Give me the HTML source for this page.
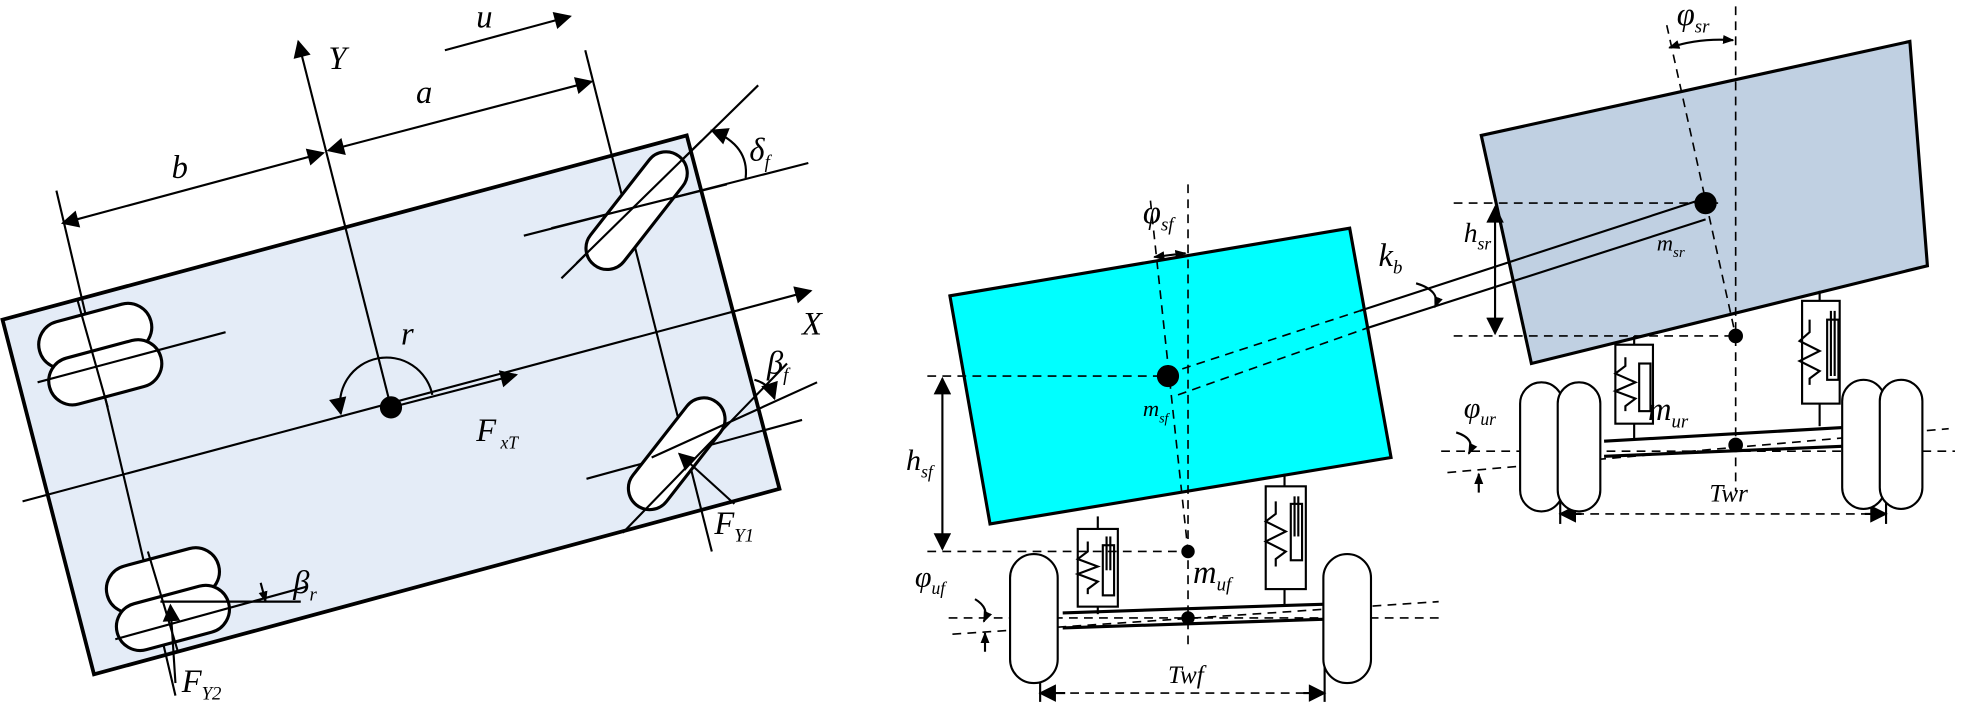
<!DOCTYPE html>
<html><head><meta charset="utf-8"><style>
html,body{margin:0;padding:0;background:#fff;width:1965px;height:712px;overflow:hidden}
svg{display:block}
text{font-family:"Liberation Serif",serif;font-style:italic;fill:#000}
</style></head><body>
<svg width="1965" height="712" viewBox="0 0 1568 568" xmlns="http://www.w3.org/2000/svg">
<defs>
<marker id="a" viewBox="0 0 10 10" refX="9" refY="5" markerWidth="9" markerHeight="9" orient="auto-start-reverse" markerUnits="userSpaceOnUse"><path d="M0,1 L10,5 L0,9z" fill="#000"/></marker>
<marker id="b" viewBox="0 0 10 10" refX="9" refY="5" markerWidth="20" markerHeight="14" orient="auto-start-reverse" markerUnits="userSpaceOnUse"><path d="M0,0 L10,5 L0,10z" fill="#000"/></marker>
</defs>
<g stroke="#000" fill="none" stroke-width="1.7">
<!-- LEFT PANEL -->
<polygon points="2,255 548,108 622,390 75,538" fill="#e4ecf7" stroke-width="3"/>
<line x1="355" y1="40" x2="455" y2="13" marker-end="url(#b)"/>
<line x1="312" y1="325" x2="238" y2="33" marker-end="url(#b)"/>
<line x1="467" y1="40" x2="568" y2="440"/>
<line x1="45" y1="152" x2="140" y2="555"/>
<line x1="262" y1="120" x2="472" y2="65" marker-start="url(#b)" marker-end="url(#b)"/>
<line x1="50" y1="178" x2="258" y2="122" marker-start="url(#b)" marker-end="url(#b)"/>
<line x1="18" y1="400" x2="647" y2="232" marker-end="url(#b)"/>
<line x1="312" y1="325" x2="412" y2="299" marker-end="url(#b)"/>
<path d="M345,315 A36,36 0 1 0 272,330" marker-end="url(#b)"/>
<circle cx="312" cy="325" r="8" fill="#000"/>
<!-- front left wheel -->
<line x1="448" y1="222" x2="605" y2="68"/>
<line x1="418" y1="188" x2="645" y2="130"/>
<rect x="-55" y="-17" width="110" height="34" rx="17" transform="translate(508,168) rotate(-52)" fill="#fff" stroke-width="2.5"/>
<line x1="460" y1="210" x2="560" y2="112"/>
<line x1="440" y1="182" x2="580" y2="147"/>
<path d="M568,104 Q598,116 595,142" marker-start="url(#b)"/>
<!-- front right wheel -->
<line x1="468" y1="382" x2="640" y2="335"/>
<rect x="-52" y="-17" width="104" height="34" rx="17" transform="translate(540,362) rotate(-52)" fill="#fff" stroke-width="2.5"/>
<line x1="497" y1="425" x2="628" y2="290"/>
<line x1="520" y1="365" x2="652" y2="305"/>
<path d="M602,303 Q614,306 618,318" marker-end="url(#b)"/>
<line x1="586" y1="402" x2="542" y2="362" marker-end="url(#b)"/>
<!-- rear left wheels -->
<rect x="-46" y="-19" width="92" height="38" rx="19" transform="translate(76,268) rotate(-15)" fill="#fff" stroke-width="2.5"/>
<rect x="-46" y="-19" width="92" height="38" rx="19" transform="translate(84,297) rotate(-15)" fill="#fff" stroke-width="2.5"/>
<line x1="30" y1="305" x2="180" y2="265"/>
<line x1="62" y1="240" x2="86" y2="325"/>
<!-- rear right wheels -->
<rect x="-46" y="-19" width="92" height="38" rx="19" transform="translate(130,463) rotate(-15)" fill="#fff" stroke-width="2.5"/>
<rect x="-46" y="-19" width="92" height="38" rx="19" transform="translate(138,493) rotate(-15)" fill="#fff" stroke-width="2.5"/>
<line x1="92" y1="510" x2="245" y2="468"/>
<line x1="118" y1="440" x2="142" y2="520"/>
<line x1="128" y1="480" x2="240" y2="480"/>
<line x1="208" y1="465" x2="212" y2="480" marker-end="url(#a)"/>
<line x1="140" y1="545" x2="136" y2="483" marker-end="url(#b)"/>

<!-- RIGHT PANEL -->
<polygon points="758,236 1077,182 1110,365 790,418" fill="#00ffff" stroke-width="2.5"/>
<polygon points="1182,108 1524,33 1538,212 1222,290" fill="#c0d0e2" stroke-width="2.5"/>
<g stroke-dasharray="7,5" stroke-width="1.3">
<line x1="948" y1="147" x2="948" y2="515"/>
<line x1="918" y1="160" x2="948" y2="440"/>
<line x1="740" y1="300" x2="932" y2="300"/>
<line x1="740" y1="440" x2="948" y2="440"/>
<line x1="932" y1="298" x2="1085" y2="248"/>
<line x1="940" y1="315" x2="1090" y2="262"/>
<line x1="757" y1="493" x2="1150" y2="493"/>
<line x1="760" y1="506" x2="1148" y2="480"/>
<line x1="1385" y1="5" x2="1385" y2="392"/>
<line x1="1330" y1="20" x2="1385" y2="268"/>
<line x1="1160" y1="162" x2="1372" y2="162"/>
<line x1="1160" y1="268" x2="1385" y2="268"/>
<line x1="1150" y1="360" x2="1560" y2="360"/>
<line x1="1155" y1="377" x2="1555" y2="342"/>
<line x1="830" y1="553" x2="1057" y2="553"/>
<line x1="1245" y1="410" x2="1505" y2="410"/>
</g>
<line x1="1085" y1="248" x2="1361" y2="158"/>
<line x1="1090" y1="262" x2="1361" y2="175"/>
<line x1="830" y1="553" x2="850" y2="553" marker-start="url(#b)"/>
<line x1="1040" y1="553" x2="1057" y2="553" marker-end="url(#b)"/>
<line x1="1245" y1="410" x2="1262" y2="410" marker-start="url(#b)"/>
<line x1="1488" y1="410" x2="1505" y2="410" marker-end="url(#b)"/>
<line x1="830" y1="530" x2="830" y2="560"/><line x1="1057" y1="530" x2="1057" y2="560"/>
<line x1="1245" y1="400" x2="1245" y2="418"/><line x1="1505" y1="400" x2="1505" y2="418"/>
<line x1="752" y1="302" x2="752" y2="438" marker-start="url(#b)" marker-end="url(#b)"/>
<line x1="1193" y1="165" x2="1193" y2="266" marker-start="url(#b)" marker-end="url(#b)"/>
<line x1="921" y1="205" x2="946" y2="202" marker-start="url(#a)" marker-end="url(#a)"/>
<path d="M1332,38 Q1356,30 1383,32" marker-start="url(#a)" marker-end="url(#a)"/>
<path d="M1130,226 Q1150,232 1145,245" marker-end="url(#a)"/>
<circle cx="932" cy="300" r="8" fill="#000"/>
<circle cx="1361" cy="162" r="8" fill="#000"/>
<circle cx="948" cy="440" r="4.5" fill="#000"/>
<circle cx="948" cy="493" r="4.5" fill="#000"/>
<circle cx="1385" cy="268" r="5" fill="#000"/>
<circle cx="1385" cy="355" r="5" fill="#000"/>
<!-- front axle -->
<line x1="848" y1="489" x2="1058" y2="482" stroke-width="2.5"/>
<line x1="848" y1="501" x2="1058" y2="494" stroke-width="2.5"/>
<rect x="806" y="442" width="38" height="103" rx="19" fill="#fff"/>
<rect x="1056" y="442" width="38" height="103" rx="19" fill="#fff"/>
<!-- front springs -->
<line x1="876" y1="412" x2="876" y2="422"/>
<rect x="860" y="422" width="32" height="62"/>
<polyline points="868,432 868,440 860,446 876,452 860,458 876,464 868,470 868,474"/>
<line x1="876" y1="484" x2="876" y2="490"/>
<rect x="880" y="435" width="9" height="40"/><line x1="883" y1="428" x2="883" y2="455"/><line x1="886" y1="428" x2="886" y2="455"/>
<line x1="1025" y1="378" x2="1025" y2="388"/>
<rect x="1010" y="388" width="32" height="82"/>
<polyline points="1018,400 1018,410 1010,416 1026,424 1010,432 1026,440 1018,446 1018,452"/>
<line x1="1025" y1="470" x2="1025" y2="482"/>
<rect x="1030" y="402" width="9" height="45"/><line x1="1033" y1="396" x2="1033" y2="428"/><line x1="1036" y1="396" x2="1036" y2="428"/>
<!-- rear axle -->
<line x1="1280" y1="352" x2="1472" y2="341" stroke-width="2.5"/>
<line x1="1280" y1="364" x2="1472" y2="356" stroke-width="2.5"/>
<rect x="1213" y="305" width="34" height="103" rx="17" fill="#fff"/>
<rect x="1243" y="305" width="34" height="103" rx="17" fill="#fff"/>
<rect x="1470" y="303" width="34" height="103" rx="17" fill="#fff"/>
<rect x="1500" y="303" width="34" height="103" rx="17" fill="#fff"/>
<line x1="1304" y1="268" x2="1304" y2="275"/>
<rect x="1289" y="275" width="30" height="63"/>
<polyline points="1297,285 1297,292 1289,298 1305,305 1289,312 1305,318 1297,324 1297,328"/>
<line x1="1304" y1="338" x2="1304" y2="350"/>
<rect x="1308" y="290" width="9" height="38"/>
<line x1="1452" y1="232" x2="1452" y2="240"/>
<rect x="1438" y="240" width="30" height="82"/>
<polyline points="1444,255 1444,265 1436,272 1452,280 1436,288 1452,296 1444,302 1444,307"/>
<line x1="1452" y1="322" x2="1452" y2="340"/>
<rect x="1458" y="255" width="9" height="48"/><line x1="1461" y1="248" x2="1461" y2="300"/><line x1="1464" y1="248" x2="1464" y2="300"/>
<!-- rotation markers -->
<path d="M778,478 Q790,485 785,496" marker-end="url(#a)"/>
<line x1="786" y1="520" x2="786" y2="505" marker-end="url(#a)"/>
<path d="M1162,345 Q1178,350 1172,362" marker-end="url(#a)"/>
<line x1="1180" y1="393" x2="1180" y2="378" marker-end="url(#a)"/>
</g>
<g font-size="26">
<text x="380" y="22">u</text>
<text x="262" y="55">Y</text>
<text x="332" y="82">a</text>
<text x="137" y="142">b</text>
<text x="640" y="267">X</text>
<text x="320" y="275">r</text>
<text x="380" y="352">F<tspan font-size="14" dy="6"> xT</tspan></text>
<text x="598" y="128">δ<tspan font-size="15" dy="6">f</tspan></text>
<text x="612" y="298">β<tspan font-size="15" dy="6">f</tspan></text>
<text x="570" y="426">F<tspan font-size="15" dy="6">Y1</tspan></text>
<text x="234" y="473">β<tspan font-size="15" dy="6">r</tspan></text>
<text x="145" y="552">F<tspan font-size="15" dy="6">Y2</tspan></text>
<text x="912" y="178">φ<tspan font-size="15" dy="6">sf</tspan></text>
<text x="1338" y="20">φ<tspan font-size="15" dy="6">sr</tspan></text>
<text x="1100" y="212">k<tspan font-size="15" dy="6">b</tspan></text>
<text x="1168" y="193" font-size="22">h<tspan font-size="14" dy="6">sr</tspan></text>
<text x="723" y="375" font-size="24">h<tspan font-size="14" dy="6">sf</tspan></text>
<text x="912" y="332" font-size="18">m<tspan font-size="11" dy="5">sf</tspan></text>
<text x="1322" y="200" font-size="18">m<tspan font-size="12" dy="5">sr</tspan></text>
<text x="952" y="465">m<tspan font-size="15" dy="6">uf</tspan></text>
<text x="1315" y="335">m<tspan font-size="15" dy="6">ur</tspan></text>
<text x="730" y="468" font-size="24">φ<tspan font-size="14" dy="6">uf</tspan></text>
<text x="1168" y="333" font-size="24">φ<tspan font-size="14" dy="6">ur</tspan></text>
<text x="932" y="545" font-size="20">Twf</text>
<text x="1364" y="400" font-size="20">Twr</text>
</g>
</svg>
</body></html>
